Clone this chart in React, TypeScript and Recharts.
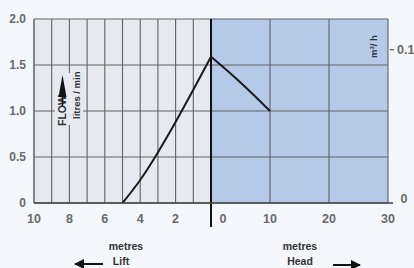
import { LineChart, Line, XAxis, YAxis, CartesianGrid, ReferenceLine } from 'recharts';

// lift side (metres) and head side (metres) with flow in litres / min
const liftMetres = [5, 4, 3, 2, 1, 0];
const liftFlow = [0, 0.25, 0.55, 0.88, 1.23, 1.59];
const headMetres = [0, 5, 10];
const headFlow = [1.59, 1.31, 1.0];

const liftTicks = [10, 9, 8, 7, 6, 5, 4, 3, 2, 1, 0];
const liftLabels = [10, 8, 6, 4, 2];
const headTicks = [10, 20, 30];
const headLabels = [0, 10, 20, 30];
const flowTicks = [0, 0.5, 1.0, 1.5, 2.0];
const m3hTicks = [0, 0.1]; // 0.1 m3/h = 1.667 l/min

// left panel spans 10 m of lift, right panel 30 m of head, same width
const toX = (side: 'lift' | 'head', m: number) => (side === 'lift' ? -m : m / 3);

const liftData = liftMetres.map((m, i) => ({ x: toX('lift', m), flow: liftFlow[i] }));
const headData = headMetres.map((m, i) => ({ x: toX('head', m), flow: headFlow[i] }));
const xTicks = [...liftTicks.map((m) => toX('lift', m)), ...headTicks.map((m) => toX('head', m))];

const LIFT_BG = '#e6e9ef';
const HEAD_BG = '#b6c9e6';
const stripes = [...liftTicks.slice(1).map(() => LIFT_BG), ...headTicks.map(() => HEAD_BG)];

const FONT = '"Liberation Sans", Arial, sans-serif';
const TICK_COLOR = '#6a6a6a';

// plot box, used only for the overlay labels
const TOP = 19;
const BOTTOM = 203;
const flowToY = (f: number) => BOTTOM - (f / 2) * (BOTTOM - TOP);

function XTick({ x, y, payload }: any) {
  const v = payload?.value ?? 0;
  let text = '';
  let dx = 0;
  if (v < 0) {
    const m = Math.round(-v);
    if (liftLabels.includes(m)) text = String(m);
  } else {
    const m = Math.round(v * 3);
    if (headLabels.includes(m)) text = String(m);
    if (m === 0) dx = 12;
  }
  if (!text) return null;
  return (
    <text x={x + dx} y={y + 12} textAnchor="middle" fontFamily={FONT} fontWeight="bold" fontSize={12.5} fill={TICK_COLOR}>
      {text}
    </text>
  );
}

export default function App() {
  return (
    <div style={{ position: 'absolute', left: 0, top: 0, width: 414, height: 268, background: '#f4f7fb' }}>
      <LineChart width={414} height={268} margin={{ top: TOP, right: 26, bottom: 0, left: 0 }}>
        <CartesianGrid stroke="#626262" strokeWidth={1.1} verticalFill={stripes} fillOpacity={1} />
        <XAxis
          type="number"
          dataKey="x"
          domain={[-10, 10]}
          ticks={xTicks}
          interval={0}
          height={65}
          tickLine={false}
          axisLine={{ stroke: '#444', strokeWidth: 1.5 }}
          tick={<XTick />}
          allowDataOverflow
        />
        <YAxis
          type="number"
          domain={[0, 2]}
          ticks={flowTicks}
          width={34}
          tickLine={false}
          axisLine={{ stroke: '#666' }}
          tickFormatter={(v: number) => (v === 0 ? '0' : v.toFixed(1))}
          tick={{ fontFamily: FONT, fontWeight: 'bold', fontSize: 12, fill: TICK_COLOR }}
        />
        <ReferenceLine
          segment={[{ x: 0, y: 2 }, { x: 0, y: -0.26 }]}
          stroke="#111"
          strokeWidth={2}
          ifOverflow="visible"
        />
        <Line data={liftData} dataKey="flow" type="monotone" stroke="#1a1a1a" strokeWidth={2} dot={false} isAnimationActive={false} />
        <Line data={headData} dataKey="flow" type="monotone" stroke="#1a1a1a" strokeWidth={2} dot={false} isAnimationActive={false} />
      </LineChart>
      <svg width={414} height={268} style={{ position: 'absolute', left: 0, top: 0, pointerEvents: 'none' }}>
        <defs>
          <marker id="ah" viewBox="0 0 10 10" refX="9" refY="5" markerWidth="6" markerHeight="5" orient="auto-start-reverse">
            <path d="M0,0 L10,5 L0,10 z" fill="#111" />
          </marker>
        </defs>
        {/* flow label */}
        <rect x={55} y={73} width={28} height={52} fill={LIFT_BG} />
        <g fontFamily={FONT} fontWeight="bold" fill="#333">
          <text transform="translate(66,126) rotate(-90)" fontSize={10.5}>FLOW</text>
          <line x1={62.5} x2={62.5} y1={106} y2={95} stroke="#111" strokeWidth={1.5} />
          <path d="M58.5,97 L62.5,75 L66.5,97 z" fill="#111" />
          <text transform="translate(80,119) rotate(-90)" fontSize={9.5}>litres / min</text>
        </g>
        {/* right axis, m3/h */}
        <g transform="translate(377,58) rotate(-90)" fontFamily={FONT} fontWeight="bold" fill="#333">
          <text x={0} y={0} fontSize={9.5}>
            m<tspan dy={-3} fontSize={6}>3</tspan>
            <tspan dy={3}>/ h</tspan>
          </text>
        </g>
        {m3hTicks.map((q) => {
          const y = flowToY((q * 1000) / 60);
          if (q === 0) {
            return (
              <g key={q}>
                <line x1={388} x2={393} y1={y} y2={y} stroke="#444" strokeWidth={1.5} />
                <text x={404} y={y} textAnchor="middle" fontFamily={FONT} fontWeight="bold" fontSize={12.5} fill={TICK_COLOR}>0</text>
              </g>
            );
          }
          return (
            <g key={q}>
              <line x1={390} x2={394} y1={y} y2={y} stroke="#555" strokeWidth={1.2} />
              <text x={397} y={y + 4.5} fontFamily={FONT} fontWeight="bold" fontSize={12.5} fill={TICK_COLOR}>{q.toFixed(1)}</text>
            </g>
          );
        })}
        {/* lift / head captions */}
        <g fontFamily={FONT} fontWeight="bold" fill="#333" fontSize={10.5} textAnchor="middle">
          <text x={126} y={250}>metres</text>
          <text x={121} y={265}>Lift</text>
          <text x={300} y={250}>metres</text>
          <text x={300} y={265}>Head</text>
        </g>
        <line x1={103} x2={75} y1={264} y2={264} stroke="#111" strokeWidth={2} markerEnd="url(#ah)" />
        <line x1={333} x2={360} y1={265} y2={265} stroke="#111" strokeWidth={2} markerEnd="url(#ah)" />
      </svg>
    </div>
  );
}
